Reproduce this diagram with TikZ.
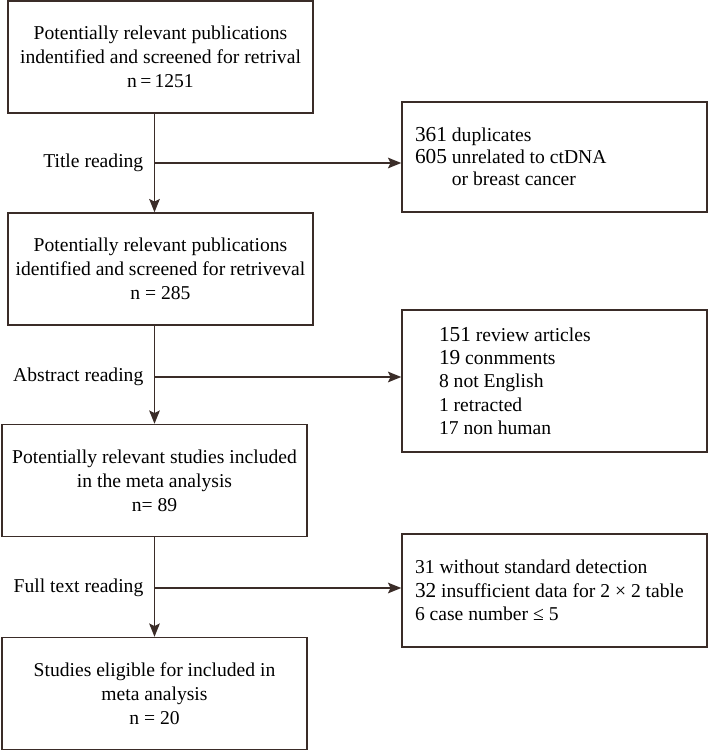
\documentclass[tikz,border=0pt]{standalone}
\usepackage{fontspec}
\setmainfont{Liberation Serif}
\usetikzlibrary{arrows.meta}

\definecolor{linebrown}{RGB}{58,44,40}
\newcommand{\bignum}[1]{{\fontsize{16}{17}\selectfont #1}}

\begin{document}
\begin{tikzpicture}[x=0.75pt, y=-0.75pt,
        mainbox/.style={draw=linebrown, line width=1.1pt, align=center,
            minimum width=228.75pt, minimum height=84pt, inner sep=2pt,
            font=\fontsize{14.7}{18}\selectfont},
        sidebox/.style={draw=linebrown, line width=1.1pt, align=flush left,
            minimum width=228.75pt, inner xsep=9.75pt, text width=209.25pt,
            font=\fontsize{14.7}{17.5}\selectfont},
        steplabel/.style={anchor=east, font=\fontsize{14.7}{16}\selectfont},
        conn/.style={draw=linebrown, line width=1.1pt},
        arr/.style={conn, -{Stealth[length=10pt, width=8pt, inset=2pt]}}]
                    \useasboundingbox (0,0) rectangle (709,752);

                    % main column
                    \node[mainbox] (b1) at (160.5,57)
                        {Potentially relevant publications\\
                         indentified and screened for retrival\\
                         n\,=\,1251};
                    \node[mainbox] (b2) at (160.5,269)
                        {Potentially relevant publications\\
                         identified and screened for retriveval\\
                         n = 285};
                    \node[mainbox] (b3) at (154.5,480.5)
                        {Potentially relevant studies included\\
                         in the meta analysis\\
                         n= 89};
                    \node[mainbox] (b4) at (154.5,693.5)
                        {Studies eligible for included in\\
                         meta analysis\\
                         n = 20};

                    % excluded records
                    \node[sidebox, minimum height=82.5pt, font=\fontsize{14.7}{16.5}\selectfont] (r1) at (554.5,157)
                        {\bignum{361} duplicates\\
                         \bignum{605} unrelated to ctDNA\\
                         \phantom{\bignum{605}} or breast cancer};
                    \node[sidebox, minimum height=106.5pt, inner xsep=27.75pt,
                          text width=173.25pt] (r2) at (554.5,381)
                        {\bignum{151} review articles\\
                         \bignum{19} conmments\\
                         8 not English\\
                         1 retracted\\
                         17 non human};
                    \node[sidebox, minimum height=84.75pt] (r3) at (554.5,590.5)
                        {31 without standard detection\\
                         \bignum{32} insufficient data for 2 × 2 table\\
                         6 case number ≤ 5};

                    % branch points
                    \coordinate (t1) at (154.5,163);
                    \coordinate (t2) at (154.5,377);
                    \coordinate (t3) at (154.5,588);

                    \node[steplabel] (l1) at (148,163) {Title reading};
                    \node[steplabel] (l2) at (148,377) {Abstract reading};
                    \node[steplabel] (l3) at (148,588) {Full text reading};

                    \draw[arr] (b1.south -| t1) -- (b2.north -| t1);
                    \draw[arr] (b2.south -| t2) -- (b3.north);
                    \draw[arr] (b3.south) -- (b4.north);

                    \draw[arr] (t1) -- (t1 -| r1.west);
                    \draw[arr] (t2) -- (t2 -| r2.west);
                    \draw[arr] (t3) -- (t3 -| r3.west);
                \end{tikzpicture}
\end{document}
